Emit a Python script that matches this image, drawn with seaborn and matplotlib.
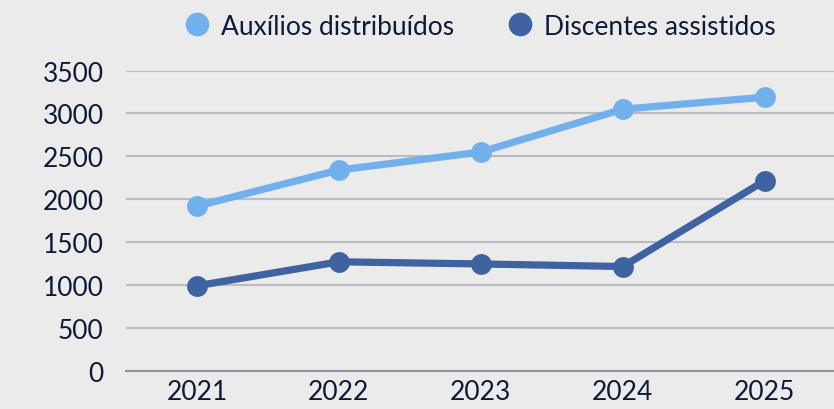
import pandas as pd
import matplotlib.pyplot as plt
import seaborn as sns
from matplotlib.lines import Line2D

years = ["2021", "2022", "2023", "2024", "2025"]
auxilios = [1920, 2340, 2550, 3050, 3190]
discentes = [990, 1270, 1245, 1215, 2215]
series_names = ["Auxílios distribuídos", "Discentes assistidos"]
colors = ["#71b0eb", "#3f62a0"]

df = pd.DataFrame({
    "ano": years * 2,
    "valor": auxilios + discentes,
    "serie": [series_names[0]] * 5 + [series_names[1]] * 5,
})

sns.set_style("white")
plt.rcParams['font.family'] = ['Lato', 'DejaVu Sans']
text_color = "#0f1a38"
bg = "#ebebeb"

fig = plt.figure(figsize=(8.34, 4.10), dpi=100, facecolor=bg)
ax = fig.add_axes([0.151, 0.0934, 0.851, 0.732])
ax.set_facecolor(bg)

sns.lineplot(data=df, x="ano", y="valor", hue="serie", palette=colors,
             marker="o", markersize=15, markeredgewidth=0, linewidth=5.2,
             legend=False, ax=ax)

ax.set_xlim(-0.5, 4.5)
ax.set_ylim(0, 3500)
ax.set_yticks(range(0, 3501, 500))
ax.grid(axis="y", color="#b9bcc3", linewidth=1.5)
ax.set_axisbelow(True)
for s in ["top", "right", "left"]:
    ax.spines[s].set_visible(False)
ax.spines["bottom"].set_color("#8e939c")
ax.spines["bottom"].set_linewidth(1.5)
ax.tick_params(axis="both", length=0, labelsize=19, labelcolor=text_color)
ax.tick_params(axis="y", pad=16)
ax.tick_params(axis="x", pad=6)
ax.set_xlabel("")
ax.set_ylabel("")

handles = [Line2D([], [], linestyle="", marker="o", markersize=17,
                  markerfacecolor=c, markeredgewidth=0) for c in colors]
fig.legend(handles, series_names, loc="center", bbox_to_anchor=(0.575, 0.934),
           ncol=2, frameon=False, fontsize=19, labelcolor=text_color,
           handletextpad=0.4, columnspacing=2.0, handlelength=1.0)

fig.savefig("out.png", dpi=100, facecolor=bg)
